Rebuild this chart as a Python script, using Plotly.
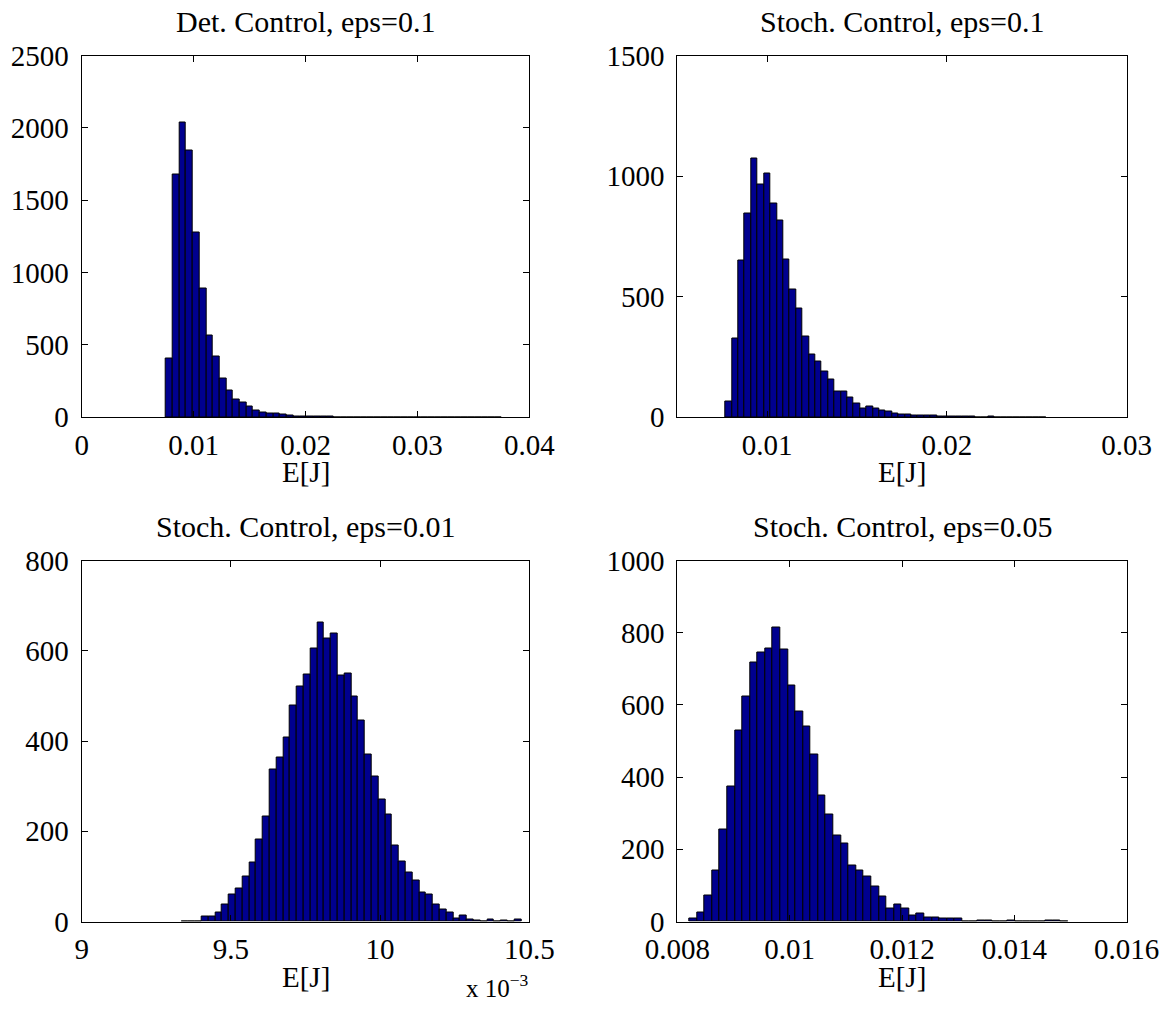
import numpy as np
import plotly.graph_objects as go

# Histogram counts (50 bins each) of the estimated cost E[J]
det_01_counts = [406, 1678, 2040, 1842, 1279, 892, 565, 417, 267, 182,
                 124, 104, 74, 44, 32, 28, 23, 16, 14, 9,
                 9, 7, 5, 4, 3, 2, 2, 1, 1, 1,
                 1, 1, 0, 0, 0, 1, 0, 1, 1, 0,
                 0, 0, 0, 0, 0, 0, 0, 0, 0, 1]
det_01_range = (0.00753, 0.0375)

sto_01_counts = [66, 327, 649, 845, 1073, 964, 1011, 885, 818, 656,
                 530, 452, 334, 261, 231, 189, 155, 105, 105, 83,
                 59, 35, 44, 35, 28, 22, 14, 11, 12, 8,
                 7, 7, 8, 5, 5, 4, 3, 2, 2, 1,
                 1, 2, 1, 1, 0, 1, 0, 1, 1, 1]
sto_01_range = (0.007685, 0.0255)

sto_001_counts = [1, 1, 1, 10, 10, 21, 38, 59, 74, 100,
                  130, 182, 232, 337, 364, 408, 479, 520, 547, 604,
                  662, 627, 638, 546, 549, 498, 445, 370, 321, 271,
                  237, 169, 133, 108, 90, 65, 60, 38, 27, 19,
                  7, 14, 5, 3, 1, 4, 1, 2, 1, 4]
sto_001_range = (0.009334, 0.010473)

sto_005_counts = [7, 26, 72, 142, 256, 374, 529, 622, 718, 744,
                  755, 815, 754, 653, 581, 541, 464, 350, 296, 237,
                  216, 156, 141, 126, 96, 68, 36, 47, 35, 18,
                  21, 12, 10, 8, 7, 7, 1, 1, 4, 2,
                  1, 1, 2, 1, 1, 1, 0, 2, 3, 1]
sto_005_range = (0.008214, 0.01496)

titles = ["Det. Control, eps=0.1", "Stoch. Control, eps=0.1",
          "Stoch. Control, eps=0.01", "Stoch. Control, eps=0.05"]

x_ranges = [[0, 0.04], [0.005, 0.03], [0.009, 0.0105], [0.008, 0.016]]
x_ticks = [[0, 0.01, 0.02, 0.03, 0.04],
           [0.01, 0.02, 0.03],
           [0.009, 0.0095, 0.010, 0.0105],
           [0.008, 0.010, 0.012, 0.014, 0.016]]
x_ticktext = [["0", "0.01", "0.02", "0.03", "0.04"],
              ["0.01", "0.02", "0.03"],
              ["9", "9.5", "10", "10.5"],
              ["0.008", "0.01", "0.012", "0.014", "0.016"]]
y_ranges = [[0, 2500], [0, 1500], [0, 800], [0, 1000]]
y_dtick = [500, 500, 200, 200]

panels = [(det_01_counts, det_01_range), (sto_01_counts, sto_01_range),
          (sto_001_counts, sto_001_range), (sto_005_counts, sto_005_range)]

W, H = 1174, 1012
# plot-area boxes in pixels: (left, right, top, bottom)
boxes = [(81.7, 529.3, 55.5, 417.3), (677.3, 1126.7, 55.5, 417.3),
         (81.7, 529.3, 560.5, 921.5), (677.3, 1126.7, 560.5, 921.5)]

FONT = "Liberation Serif, Times New Roman, serif"
FS = 29
BAR_COLOR = "#00008F"

fig = go.Figure()
layout = {}
annotations = []
for i, ((counts, (lo, hi)), box) in enumerate(zip(panels, boxes)):
    n = len(counts)
    edges = np.linspace(lo, hi, n + 1)
    centers = 0.5 * (edges[:-1] + edges[1:])
    width = edges[1] - edges[0]
    xa = "x" if i == 0 else f"x{i+1}"
    ya = "y" if i == 0 else f"y{i+1}"
    fig.add_trace(go.Bar(
        x=centers, y=counts, width=width,
        marker=dict(color=BAR_COLOR, line=dict(color="black", width=1)),
        xaxis=xa, yaxis=ya, showlegend=False,
    ))
    l, r, t, b = box
    axis_common = dict(
        showline=True, linecolor="black", linewidth=1.2, mirror="ticks",
        ticks="inside", ticklen=6, tickcolor="black", tickwidth=1,
        showgrid=False, zeroline=False, automargin=False,
        tickfont=dict(family=FONT, size=FS, color="black"),
    )
    layout[f"xaxis{'' if i == 0 else i+1}"] = dict(
        domain=[l / W, r / W], anchor=ya, range=x_ranges[i],
        tickmode="array", tickvals=x_ticks[i], ticktext=x_ticktext[i],
        ticklabelstandoff=2, **axis_common)
    layout[f"yaxis{'' if i == 0 else i+1}"] = dict(
        domain=[1 - b / H, 1 - t / H], anchor=xa, range=y_ranges[i],
        tick0=0, dtick=y_dtick[i], ticklabelstandoff=6, **axis_common)
    cx = (l + r) / 2
    annotations.append(dict(
        text=titles[i], x=cx / W, y=1 - (t - 34) / H, xref="paper", yref="paper",
        xanchor="center", yanchor="middle", showarrow=False,
        font=dict(family=FONT, size=FS + 1, color="black")))
    annotations.append(dict(
        text="E[J]", x=cx / W, y=1 - (b + 55) / H, xref="paper", yref="paper",
        xanchor="center", yanchor="middle", showarrow=False,
        font=dict(family=FONT, size=FS, color="black")))

# exponent label for the lower-left axis
annotations.append(dict(
    text="x 10<sup>\u22123</sup>", x=497 / W, y=1 - 986 / H,
    xref="paper", yref="paper", xanchor="center", yanchor="middle",
    showarrow=False, font=dict(family=FONT, size=FS - 4, color="black")))

fig.update_layout(
    width=W, height=H, margin=dict(l=0, r=0, t=0, b=0),
    paper_bgcolor="white", plot_bgcolor="white",
    bargap=0, annotations=annotations, **layout)

fig.write_html("out.html")
